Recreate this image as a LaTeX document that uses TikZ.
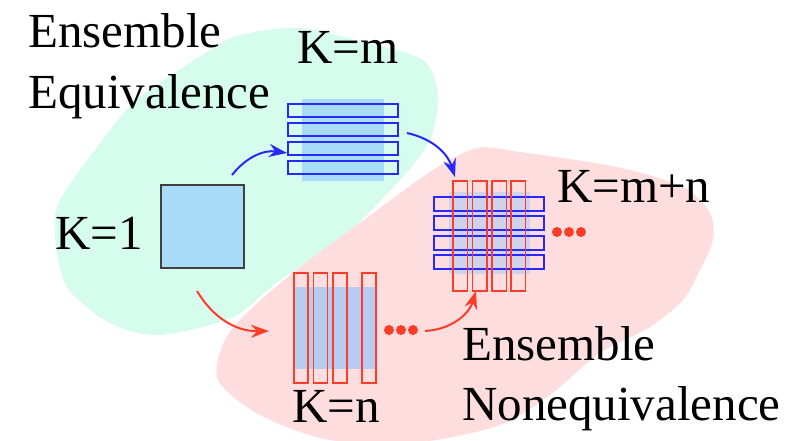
\documentclass[tikz,border=0pt]{standalone}
\usepackage{fontspec}
\setmainfont{Liberation Serif}
\usetikzlibrary{arrows.meta}

\definecolor{eqgreen}{RGB}{214,252,238}
\definecolor{neqpink}{RGB}{253,221,221}
\definecolor{sqblue}{RGB}{168,219,247}
\definecolor{nblue}{RGB}{184,203,240}
\definecolor{mnblue}{RGB}{208,210,236}
\definecolor{lineblue}{RGB}{40,40,250}
\definecolor{linered}{RGB}{255,60,40}

\newfontfamily\lblfont{Liberation Serif}

\tikzset{
  lbl/.style={anchor=base west, inner sep=0pt, font=\lblfont\fontsize{49}{58}\selectfont},
  bstrip/.style={draw=lineblue, line width=1.3pt},
  rstrip/.style={draw=linered, line width=1.3pt},
  bluearr/.style={draw=lineblue, line width=2pt, -{Stealth[length=18pt,width=13pt,inset=6pt]}},
  redarr/.style={draw=linered, line width=2pt, -{Stealth[length=18pt,width=13pt,inset=6pt]}},
  rdot/.style={fill=linered}
}

\begin{document}
\begin{tikzpicture}[x=1pt,y=-1pt]

						\useasboundingbox (0,0) rectangle (807,440);

						\fill[eqgreen] plot[smooth cycle, tension=0.5] coordinates {(55,235) (60,200) (100,143) (133,103) (167,78) (207,52) (240,35) (300,28) (367,43) (423,60) (438,95) (430,140) (400,180) (340,240) (280,280) (233,317) (160,335) (110,323) (67,287)};
						\fill[neqpink] plot[smooth cycle, tension=0.5] coordinates {(477,148) (520,152) (617,167) (683,187) (710,213) (713,240) (700,270) (683,300) (650,327) (600,353) (550,395) (500,425) (420,442) (330,440) (260,415) (218,380) (225,340) (250,310) (300,267) (387,203) (433,170)};

						\node[lbl] (enstop) at (28,47) {Ensemble};
						\node[lbl] (eqv) at (28,108) {Equivalence};
						\node[lbl] (k1) at (55,249) {K=1};
						\node[lbl] (km) at (297,63) {K=m};
						\node[lbl] (kmn) at (557,202) {K=m+n};
						\node[lbl] (kn) at (292,422) {K=n};
						\node[lbl] (ensbot) at (462,360) {Ensemble};
						\node[lbl] (noneq) at (462,420) {Nonequivalence};

						\node[draw={rgb,255:red,64;green,64;blue,64}, line width=1.5pt, fill=sqblue, minimum size=83pt, inner sep=0pt, anchor=north west] (sq) at (160,184) {};

						\fill[sqblue] (302,99) rectangle (384,181);
						\draw[bstrip] (288,104) rectangle (398,117);
						\draw[bstrip] (288,123) rectangle (398,136);
						\draw[bstrip] (288,142) rectangle (398,155);
						\draw[bstrip] (288,161) rectangle (398,174);

						\fill[mnblue] (449,192) rectangle (530,274);
						\draw[bstrip] (434,197) rectangle (544,211);
						\draw[bstrip] (434,216) rectangle (544,230);
						\draw[bstrip] (434,236) rectangle (544,250);
						\draw[bstrip] (434,255) rectangle (544,269);
						\draw[rstrip] (453,181) rectangle (467.5,291);
						\draw[rstrip] (472.5,181) rectangle (487,291);
						\draw[rstrip] (492,181) rectangle (506.5,291);
						\draw[rstrip] (511,181) rectangle (525.5,291);
						\fill[rdot] (557,232) circle (5) (569,232) circle (5) (581,232) circle (5);

						\fill[nblue] (293,287) rectangle (376,369);
						\draw[rstrip] (294,273) rectangle (308,383);
						\draw[rstrip] (313.5,273) rectangle (327.5,383);
						\draw[rstrip] (333,273) rectangle (347,383);
						\draw[rstrip] (362,273) rectangle (376,383);
						\fill[rdot] (389,330) circle (5) (401,330) circle (5) (413,330) circle (5);

						\coordinate(b1s) at (232,175);
						\coordinate(b1e) at (287,153);
						\coordinate(b2s) at (407,133);
						\coordinate(b2e) at (455,177);
						\coordinate(r1s) at (197,291);
						\coordinate(r1e) at (269,331);
						\coordinate(r2s) at (425,331);
						\coordinate(r2e) at (476,291);

						\draw[bluearr] (b1s) to[bend left=30] (b1e);
						\draw[bluearr] (b2s) to[bend left=30] (b2e);
						\draw[redarr] (r1s) to[bend right=30] (r1e);
						\draw[redarr] (r2s) to[bend right=35] (r2e);

					\end{tikzpicture}
\end{document}
